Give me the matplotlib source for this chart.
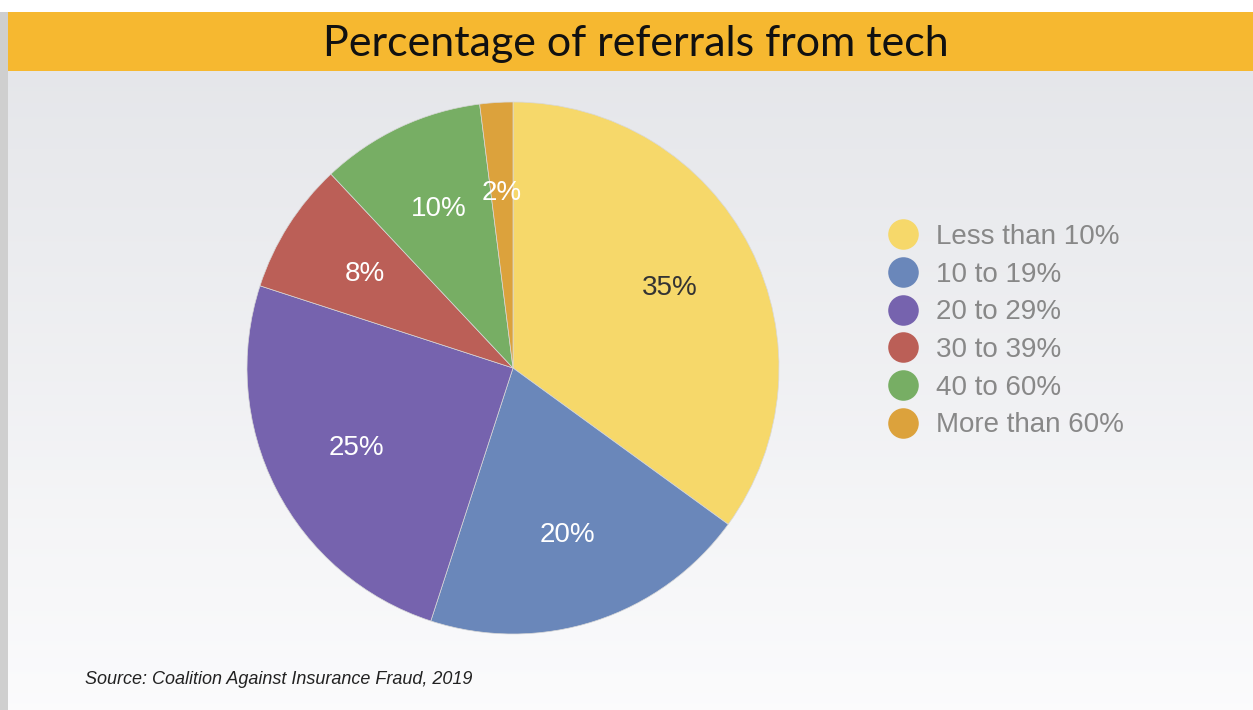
"""Pie chart: percentage of referrals from tech."""
import matplotlib.pyplot as plt
import numpy as np
from matplotlib.lines import Line2D
from matplotlib.patches import Rectangle

categories = ["Less than 10%", "10 to 19%", "20 to 29%", "30 to 39%", "40 to 60%", "More than 60%"]
shares = [35, 20, 25, 8, 10, 2]
colors = ["#F6D86A", "#6A87BA", "#7663AE", "#BB5F57", "#77AE64", "#DCA23C"]
label_colors = ["#333333", "white", "white", "white", "white", "white"]

title = "Percentage of referrals from tech"
source = "Source: Coalition Against Insurance Fraud, 2019"


def main():
    W, H = 1253, 710
    fig = plt.figure(figsize=(W / 100, H / 100), dpi=100)

    # background gradient
    bg = fig.add_axes([0, 0, 1, 1], zorder=0)
    grad = np.linspace(0, 1, 256)[:, None] * np.ones((1, 2))
    top = np.array([0.89, 0.895, 0.91])
    bot = np.array([0.985, 0.985, 0.99])
    img = top[None, None, :] * (1 - grad[..., None]) + bot[None, None, :] * grad[..., None]
    bg.imshow(img, aspect="auto", extent=[0, 1, 0, 1])
    bg.set_xlim(0, 1)
    bg.set_ylim(0, 1)
    bg.axis("off")
    # white strip on top, left shadow
    bg.add_patch(Rectangle((0, 1 - 12 / H), 1, 12 / H, color="white", lw=0))
    bg.add_patch(Rectangle((0, 0), 8 / W, 1 - 12 / H, color="#cfcfcf", lw=0))
    # title bar
    bg.add_patch(Rectangle((8 / W, 1 - 71 / H), 1, 59 / H, color="#F6B830", lw=0))
    bg.text(636 / W, 1 - 44 / H, title, ha="center", va="center",
            fontsize=31, family="Lato", color="#111111")
    bg.text(85 / W, 1 - 679 / H, source, ha="left", va="center",
            fontsize=13, family="Liberation Sans", style="italic", color="#222222")

    # pie
    cx, cy, r = 513, 368, 266
    ax = fig.add_axes([(cx - r) / W, (H - cy - r) / H, 2 * r / W, 2 * r / H], zorder=1)
    wedges, texts, autotexts = ax.pie(
        shares, colors=colors, startangle=90, counterclock=False,
        autopct="%d%%", pctdistance=0.66, radius=1,
        wedgeprops={"linewidth": 0.5, "edgecolor": "#d8d8d8"},
        textprops={"fontsize": 20, "family": "Liberation Sans"},
    )
    for t, c in zip(autotexts, label_colors):
        t.set_color(c)
    ax.set_xlim(-1, 1)
    ax.set_ylim(-1, 1)
    ax.axis("off")

    handles = [
        Line2D([], [], marker="o", linestyle="none", markersize=22,
               markerfacecolor=c, markeredgecolor="none")
        for c in colors
    ]
    fig.legend(handles, categories, loc="upper left",
               bbox_to_anchor=(886 / W, 1 - 224 / H), frameon=False,
               prop={"family": "Liberation Sans", "size": 20},
               labelcolor="#888888", labelspacing=0.42, handletextpad=0.6,
               handlelength=1.2, borderpad=0, borderaxespad=0)

    fig.savefig("out.png", dpi=100)


if __name__ == "__main__":
    main()
